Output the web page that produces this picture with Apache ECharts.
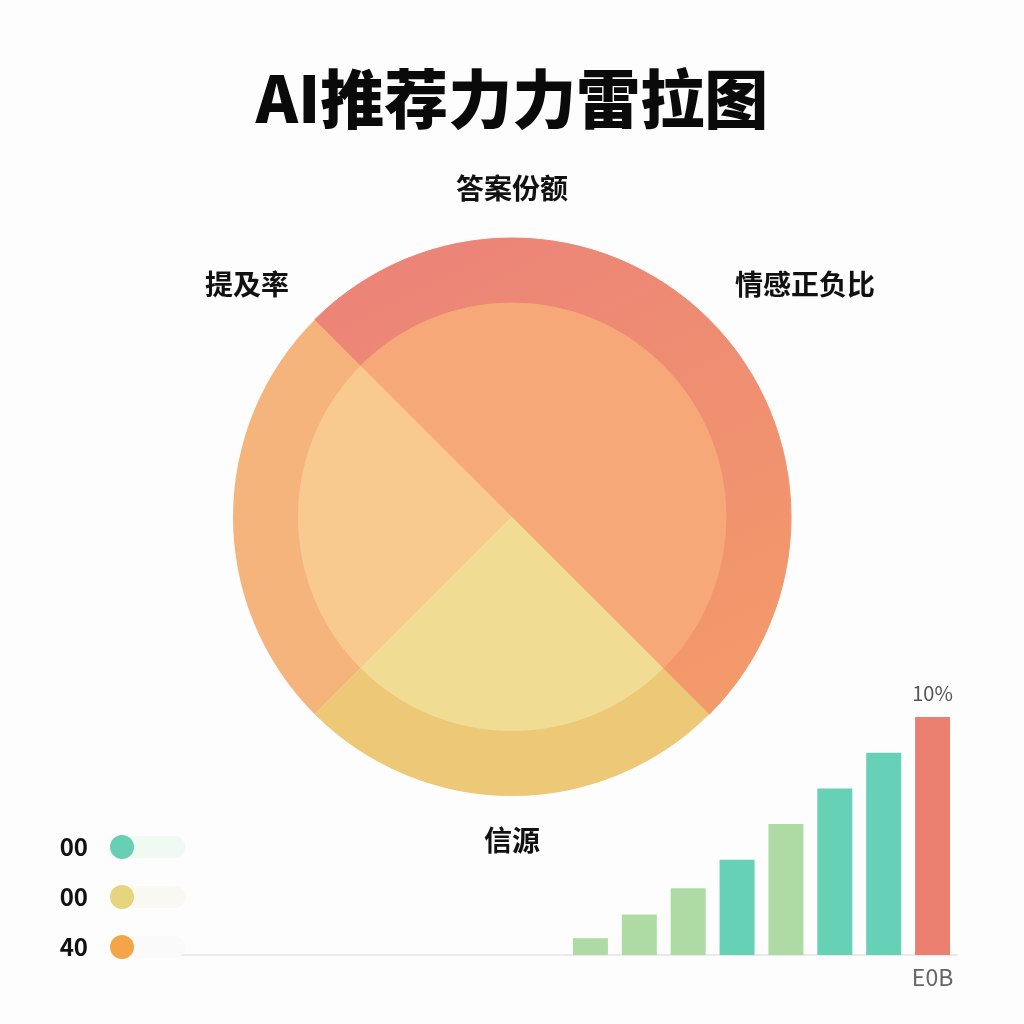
<!DOCTYPE html>
<html>
<head>
<meta charset="utf-8">
<script src="https://cdn.jsdelivr.net/npm/echarts@6/dist/echarts.min.js"></script>
<style>
  html, body { margin: 0; padding: 0; background: #fdfdfd; }
  #main { width: 1024px; height: 1024px; }
</style>
</head>
<body>
<div id="main"></div>
<script>
// 饼图数据
var pieNames = ['答案份额', '情感正负比', '信源', '提及率'];
var pieValues = [25, 25, 25, 25];
// 右下柱状图
var barCats = ['', '', '', '', '', '', '', 'E0B'];
var barValues = [0.7, 1.7, 2.8, 4.0, 5.5, 7.0, 8.5, 10];
var barColors = ['#aedba4', '#aedba4', '#aedba4', '#66d1b6', '#aedba4', '#66d1b6', '#66d1b6', '#ec8070'];
// 左下小图例
var dotLabels = ['40', '00', '00'];
var dotValues = [0, 0, 0];
var trackValues = [100, 100, 100];
var dotColors = ['#f4a548', '#e6d47e', '#66cfb4'];
var trackColors = ['#fafafa', '#f9f8f3', '#eefaf2'];

var font = '"Noto Sans CJK SC", "Noto Sans", sans-serif';

// 上半部分渐变（全局坐标）
function redGrad(){
    return new echarts.graphic.LinearGradient(512, 238, 740, 690, [
        {offset: 0, color: '#ec8577'},
        {offset: 1, color: '#f39a6a'}
    ], true);
}
var outerColors = [redGrad(), redGrad(), '#edc877', '#f5b47b'];
var innerColors = ['#f6a878', '#f6a878', '#f0dc93', '#f9ca90'];

function pieData(colors){
    var arr = [];
    for(var i = 0;i<pieNames.length;i++){
        var st = {color: colors[i]};
        // 前两块同色，加同色描边去掉接缝
        if(i < 2){
            st.borderColor = colors[i];
            st.borderWidth = 1;
        }
        arr.push({name: pieNames[i], value: pieValues[i], itemStyle: st});
    }
    return arr;
}

var barData = barValues.map(function(v, i){
    var d = {value: v, itemStyle: {color: barColors[i]}};
    if(i == barValues.length - 1){
        d.label = {show: true, position: 'top', distance: 14, formatter: '{c}%',
            fontSize: 20, color: '#555', fontFamily: font};
    }
    return d;
});

var myChart = echarts.init(document.getElementById('main'));
var option = {
    backgroundColor: '#fdfdfd',
    animation: false,
    title: {
        text: 'AI推荐力力雷拉图',
        left: 'center',
        top: 62,
        textStyle: {fontSize: 64, fontWeight: 900, color: '#0a0a0a', fontFamily: font}
    },
    grid: [
        {left: 566, right: 67, top: 717, bottom: 69},
        {left: 122, width: 63, top: 822, bottom: 52}
    ],
    xAxis: [
        {
            gridIndex: 0,
            type: 'category',
            data: barCats,
            axisLine: {lineStyle: {color: '#e2e2e2', width: 1.5}},
            axisTick: {show: false},
            axisLabel: {fontSize: 23, color: '#666', margin: 11, fontFamily: font, interval: 0}
        },
        {
            gridIndex: 1,
            type: 'value',
            min: 0,
            max: 100,
            show: false
        }
    ],
    yAxis: [
        {gridIndex: 0, type: 'value', min: 0, max: 10, show: false},
        {
            gridIndex: 1,
            type: 'category',
            data: dotLabels,
            axisLine: {show: false},
            axisTick: {show: false},
            axisLabel: {fontSize: 24, fontWeight: 'bold', color: '#111', margin: 34, fontFamily: font}
        }
    ],
    series: [
        {
            type: 'pie',
            center: [512, 517],
            radius: [213, 279],
            startAngle: 135,
            clockwise: true,
            label: {show: false},
            labelLine: {show: false},
            silent: true,
            data: pieData(outerColors)
        },
        {
            type: 'pie',
            center: [512, 517],
            radius: [0, 214],
            startAngle: 135,
            clockwise: true,
            label: {show: false},
            labelLine: {show: false},
            silent: true,
            data: pieData(innerColors)
        },
        {
            type: 'bar',
            xAxisIndex: 0,
            yAxisIndex: 0,
            barWidth: 35,
            data: barData
        },
        {
            type: 'bar',
            xAxisIndex: 1,
            yAxisIndex: 1,
            barWidth: 22,
            silent: true,
            itemStyle: {borderRadius: 11},
            data: trackValues.map(function(v, i){
                return {value: v, itemStyle: {color: trackColors[i]}};
            })
        },
        {
            type: 'scatter',
            xAxisIndex: 1,
            yAxisIndex: 1,
            symbolSize: 24,
            data: dotValues.map(function(v, i){
                return {value: [v, i], itemStyle: {color: dotColors[i], opacity: 1}};
            })
        }
    ],
    graphic: [
        {type: 'line', shape: {x1: 130, y1: 955, x2: 566, y2: 955}, style: {stroke: '#e6e6e6', lineWidth: 1.5}, z: -1},
        {type: 'text', x: 512, y: 188, style: {text: '答案份额', align: 'center', verticalAlign: 'middle', fill: '#111', font: 'bold 28px ' + font}},
        {type: 'text', x: 247, y: 284, style: {text: '提及率', align: 'center', verticalAlign: 'middle', fill: '#111', font: 'bold 28px ' + font}},
        {type: 'text', x: 805, y: 284, style: {text: '情感正负比', align: 'center', verticalAlign: 'middle', fill: '#111', font: 'bold 28px ' + font}},
        {type: 'text', x: 512, y: 840, style: {text: '信源', align: 'center', verticalAlign: 'middle', fill: '#111', font: 'bold 28px ' + font}}
    ]
};
myChart.setOption(option);
</script>
</body>
</html>
